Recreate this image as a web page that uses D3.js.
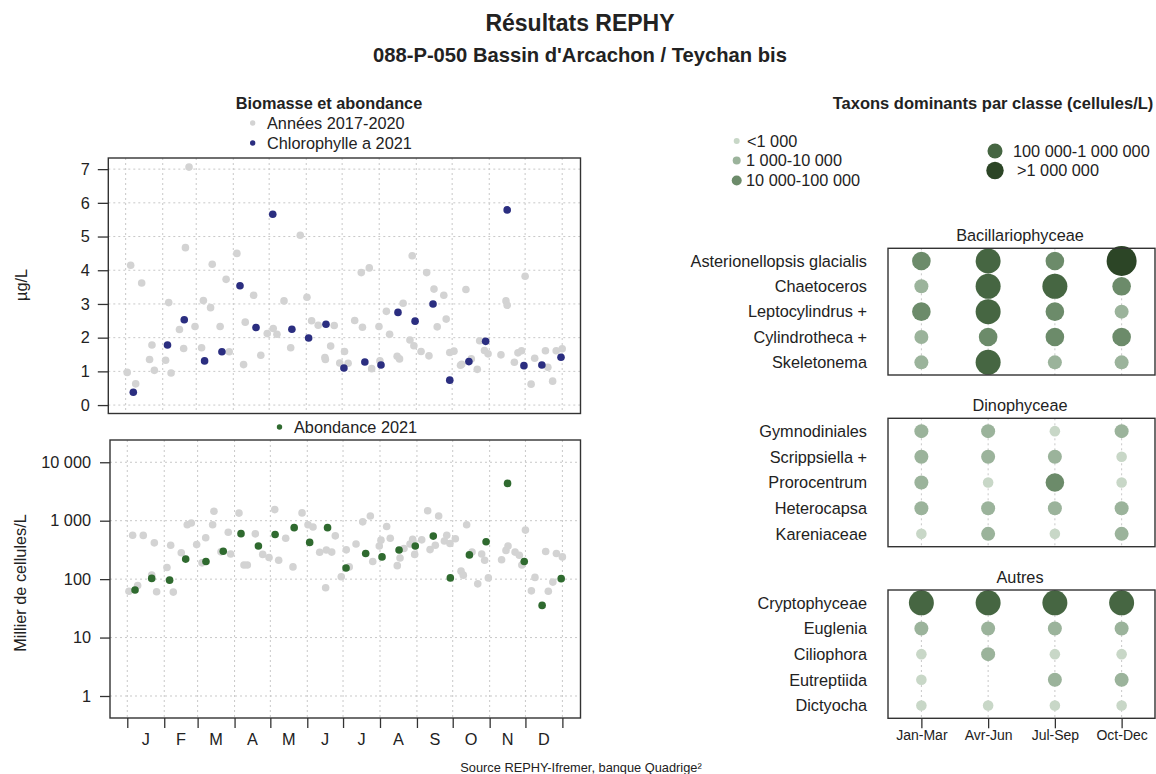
<!DOCTYPE html>
<html><head><meta charset="utf-8">
<script src="https://cdn.jsdelivr.net/npm/d3@7"></script>
<style>
body{margin:0;background:#fff;}
svg text{font-family:"Liberation Sans",Arial,sans-serif;fill:#222;}
</style></head>
<body><svg id="c" width="1156" height="774"></svg>
<script>
// ---------- DATA ----------
const monthLabels = ["J","F","M","A","M","J","J","A","S","O","N","D"];
const monthStarts = [0,31,59,90,120,151,181,212,243,273,304,334,365];
const chlTicks = [0,1,2,3,4,5,6,7];
const abTicks = [1,10,100,1000,10000];
const abTickLabels = ["1","10","100","1 000","10 000"];

// Chlorophylle a 2021 : day of year, µg/L
const chl2021Day = [6.4,35,49,66,80.5,95.6,109,123,139,153,167.5,182.5,200,213.5,227.7,242,257,271,287,301,319,333,348,364];
const chl2021Val = [0.38,1.78,2.53,1.31,1.58,3.54,2.3,5.66,2.25,1.99,2.4,1.1,1.28,1.19,2.75,2.49,3.0,0.74,1.29,1.89,5.79,1.17,1.19,1.42];

// Années 2017-2020 chlorophylle
const chlHistDay = [1.3,8.4,4.2,13.4,20,22,24,36,33.4,38,45,48.5,50,53,58,63.5,65,71,72.4,79,84,86.6,93,98.6,100,107,113,118.4,123.4,126.5,132.4,138,146,151.6,155.5,161,166.6,167,171.4,174.4,179,183,186,191.5,197,198,203.7,205.7,211.8,212.6,218,220.7,227,229,232,237.7,239.6,241,247,251.7,253.6,257.8,260.5,266,268,271,274.5,280,281,284.5,289,294,296,300,303,313.8,318,319,325,328,331,334,339,342,351,353,357,360,365];
const chlHistVal = [0.97,0.63,4.15,3.62,1.35,1.78,1.03,3.04,1.33,0.95,2.24,1.68,4.67,7.06,2.33,1.7,3.1,2.89,4.18,2.33,3.73,1.58,4.5,1.2,2.46,3.26,1.48,2.12,2.27,2.1,3.09,1.7,5.04,3.2,2.5,2.37,1.41,1.35,1.75,2.36,1.25,1.59,1.24,2.51,3.93,2.31,4.07,1.08,2.33,1.31,2.78,2.1,1.45,1.37,3.02,1.93,4.43,1.76,1.59,3.93,1.46,3.44,2.32,3.26,2.55,1.56,1.6,1.18,1.21,3.43,1.37,1.06,1.91,1.62,1.52,1.49,3.09,2.96,1.27,1.55,1.61,3.82,0.62,1.39,1.61,1.12,0.71,1.61,1.67];

// Abondance 2021 (milliers de cellules/L)
const ab2021Day = [6.5,20.5,35.5,49,66,80.5,95.4,110,124,140,153,168,183.5,200,213.7,228,241.6,256.7,271,287,301,319,333,348,364];
const ab2021Val = [65,103,96,220,200,300,600,370,580,760,425,760,155,275,240,315,370,545,105,260,435,4350,200,35.5,102];

// Années 2017-2020 abondance
const abHistDay = [1.4,4.5,8.7,13.4,20.5,22.7,24.6,33.3,36.4,38.6,45.3,50.3,53.7,58.2,62.7,65.8,71.6,72.7,78.6,84.7,86.7,93.7,97.9,100.7,107.4,113.6,118.9,123.7,127,132.9,139,146.6,151.6,155.8,161.4,166.4,167,171.5,174.5,179.5,183.7,186.2,191.9,197.5,203.9,205.9,211.4,212.8,217.6,220.6,226.5,228.8,232.1,237.2,239.4,241.1,247,252,254,258.4,261.2,266,268,270.7,275.2,280,281.9,284.7,289.2,294,297.3,299.8,302.9,314,317.7,319.4,325.3,328.9,331,334,339,342,351,353.2,357,360,365];
const abHistVal = [62,565,78,560,118,418,61,158,380,60,282,850,915,390,190,510,850,1450,293,635,270,1350,175,175,595,265,235,1550,210,500,162,1360,850,780,288,71,315,290,550,110,317,162,400,955,1200,200,370,465,795,500,170,230,335,400,480,265,470,1480,320,380,1200,450,565,407,490,137,117,850,290,83,270,210,105,214,310,370,290,257,175,690,63,107,297,62,89,275,240];

// Taxons dominants: classes 1..5 (<1 000 ... >1 000 000), null = absent
const quarters = ["Jan-Mar","Avr-Jun","Jul-Sep","Oct-Dec"];
const classLabels = ["<1 000","1 000-10 000","10 000-100 000","100 000-1 000 000",">1 000 000"];
const bacTaxa = ["Asterionellopsis glacialis","Chaetoceros","Leptocylindrus +","Cylindrotheca +","Skeletonema"];
const bacClasses = [[3,4,3,5],[2,4,4,3],[3,4,3,2],[2,3,3,3],[2,4,2,2]];
const dinoTaxa = ["Gymnodiniales","Scrippsiella +","Prorocentrum","Heterocapsa","Kareniaceae"];
const dinoClasses = [[2,2,1,2],[2,2,2,1],[2,1,3,1],[2,2,2,2],[1,2,1,2]];
const autTaxa = ["Cryptophyceae","Euglenia","Ciliophora","Eutreptiida","Dictyocha"];
const autClasses = [[4,4,4,4],[2,2,2,2],[1,2,1,1],[1,null,2,2],[1,1,1,1]];

// ---------- STYLE ----------
const GREY = "#d3d3d3", NAVY = "#2b2e80", GREEN = "#2f6a2f";
const classColors = ["#c8d7c7","#9bb39b","#6c8b6a","#466642","#2c4526"];
const classR = [5.3,7,9.3,12.5,15];
const legendR = [3,4,5,7.5,8.7];
const FS = 16.3;

const svg = d3.select("#c");

// Titles
svg.append("text").attr("x",580).attr("y",31).attr("text-anchor","middle")
  .attr("font-size",23).attr("font-weight","bold").text("Résultats REPHY");
svg.append("text").attr("x",580).attr("y",62).attr("text-anchor","middle")
  .attr("font-size",20.2).attr("font-weight","bold").text("088-P-050 Bassin d'Arcachon / Teychan bis");

// ---------- TOP PANEL ----------
const T = {l:108.3, r:580.5, t:158, b:413.5};
const xTop = d3.scaleLinear().domain([-14.5,380.3]).range([T.l,T.r]);
const yTop = d3.scaleLinear().domain([-0.25,7.33]).range([T.b,T.t]);

function grid(g, x, y, ticksY, box){
  g.selectAll(".gv").data(monthStarts).join("line")
    .attr("x1",d=>x(d)).attr("x2",d=>x(d)).attr("y1",box.t).attr("y2",box.b)
    .attr("stroke","#c8c8c8").attr("stroke-dasharray","2,3");
  g.selectAll(".gh").data(ticksY).join("line").attr("class","gh")
    .attr("x1",box.l).attr("x2",box.r).attr("y1",d=>y(d)).attr("y2",d=>y(d))
    .attr("stroke","#c8c8c8").attr("stroke-dasharray","2,3");
}
const gTop = svg.append("g");
grid(gTop, xTop, yTop, chlTicks, T);
gTop.append("g").selectAll("circle").data(d3.range(chlHistDay.length)).join("circle")
  .attr("cx",i=>xTop(chlHistDay[i])).attr("cy",i=>yTop(chlHistVal[i])).attr("r",3.8).attr("fill",GREY);
gTop.append("g").selectAll("circle").data(d3.range(chl2021Day.length)).join("circle")
  .attr("cx",i=>xTop(chl2021Day[i])).attr("cy",i=>yTop(chl2021Val[i])).attr("r",3.8).attr("fill",NAVY);
gTop.append("rect").attr("x",T.l).attr("y",T.t).attr("width",T.r-T.l).attr("height",T.b-T.t)
  .attr("fill","none").attr("stroke","#333").attr("stroke-width",1.4);
const axT = gTop.append("g").attr("transform",`translate(${T.l},0)`)
  .call(d3.axisLeft(yTop).tickValues(chlTicks).tickFormat(d3.format("d")).tickSize(10.5).tickPadding(8));
axT.select(".domain").remove();
axT.selectAll("line").attr("stroke","#333").attr("stroke-width",1.3);
axT.selectAll("text").attr("font-size",FS).attr("font-family","Liberation Sans, Arial, sans-serif").attr("fill","#222");
svg.append("text").attr("transform","translate(27,285) rotate(-90)").attr("text-anchor","middle")
  .attr("font-size",FS).text("µg/L");

// Legend top-left
svg.append("text").attr("x",329).attr("y",109).attr("text-anchor","middle")
  .attr("font-size",FS).attr("font-weight","bold").text("Biomasse et abondance");
const leg1 = [["Années 2017-2020",GREY,123],["Chlorophylle a 2021",NAVY,143]];
leg1.forEach(([t,c,y])=>{
  svg.append("circle").attr("cx",252.7).attr("cy",y).attr("r",2.7).attr("fill",c);
  svg.append("text").attr("x",267).attr("y",y+5.7).attr("font-size",FS).text(t);
});
svg.append("circle").attr("cx",279.5).attr("cy",427).attr("r",2.7).attr("fill",GREEN);
svg.append("text").attr("x",294).attr("y",432.7).attr("font-size",FS).text("Abondance 2021");

// ---------- BOTTOM PANEL ----------
const B = {l:110, r:580.5, t:440, b:718};
const xBot = d3.scaleLinear().domain([-14.5,380.2]).range([B.l,B.r]);
const yBot = d3.scaleLog().domain([Math.pow(10,-0.3765),Math.pow(10,4.381)]).range([B.b,B.t]);
const gBot = svg.append("g");
grid(gBot, xBot, yBot, abTicks, B);
gBot.append("g").selectAll("circle").data(d3.range(abHistDay.length)).join("circle")
  .attr("cx",i=>xBot(abHistDay[i])).attr("cy",i=>yBot(abHistVal[i])).attr("r",3.8).attr("fill",GREY);
gBot.append("g").selectAll("circle").data(d3.range(ab2021Day.length)).join("circle")
  .attr("cx",i=>xBot(ab2021Day[i])).attr("cy",i=>yBot(ab2021Val[i])).attr("r",3.8).attr("fill",GREEN);
gBot.append("rect").attr("x",B.l).attr("y",B.t).attr("width",B.r-B.l).attr("height",B.b-B.t)
  .attr("fill","none").attr("stroke","#333").attr("stroke-width",1.4);
const axB = gBot.append("g").attr("transform",`translate(${B.l},0)`)
  .call(d3.axisLeft(yBot).tickValues(abTicks).tickFormat((d,i)=>abTickLabels[i]).tickSize(10).tickPadding(9));
axB.select(".domain").remove();
axB.selectAll("line").attr("stroke","#333").attr("stroke-width",1.3);
axB.selectAll("text").attr("font-size",FS).attr("font-family","Liberation Sans, Arial, sans-serif").attr("fill","#222");
const axX = gBot.append("g").attr("transform",`translate(0,${B.b})`)
  .call(d3.axisBottom(xBot).tickValues(monthStarts).tickFormat("").tickSize(10));
axX.select(".domain").remove();
axX.selectAll("line").attr("stroke","#333").attr("stroke-width",1.3);
gBot.selectAll(".ml").data(monthLabels).join("text")
  .attr("x",(d,i)=>xBot((monthStarts[i]+monthStarts[i+1])/2)).attr("y",745)
  .attr("text-anchor","middle").attr("font-size",FS).text(d=>d);
svg.append("text").attr("transform","translate(26,583) rotate(-90)").attr("text-anchor","middle")
  .attr("font-size",FS).text("Millier de cellules/L");

svg.append("text").attr("x",581).attr("y",772).attr("text-anchor","middle")
  .attr("font-size",12.8).text("Source REPHY-Ifremer, banque Quadrige²");

// ---------- RIGHT: TAXONS ----------
svg.append("text").attr("x",993).attr("y",109).attr("text-anchor","middle")
  .attr("font-size",16.5).attr("font-weight","bold").text("Taxons dominants par classe (cellules/L)");
const legPos = [[736.7,141,747],[736.7,160.5,746],[736.7,180.5,746],[995,151,1013],[995,170.5,1017]];
classLabels.forEach((t,i)=>{
  const [cx,cy,tx] = legPos[i];
  svg.append("circle").attr("cx",cx).attr("cy",cy).attr("r",legendR[i]).attr("fill",classColors[i]);
  svg.append("text").attr("x",tx).attr("y",cy+5.7).attr("font-size",FS).text(t);
});

const xq = d3.scalePoint().domain(quarters).range([888,1155]).padding(0.5);
function panel(title, taxa, classes, top, bottom, showAxis){
  const g = svg.append("g");
  const y = d3.scalePoint().domain(taxa).range([top,bottom]).padding(0.5);
  g.selectAll(".vl").data(quarters).join("line")
    .attr("x1",d=>xq(d)).attr("x2",d=>xq(d)).attr("y1",top).attr("y2",bottom)
    .attr("stroke","#c8c8c8").attr("stroke-dasharray","2,3");
  const cells = [];
  taxa.forEach((t,i)=>quarters.forEach((q,j)=>{ if(classes[i][j]!=null) cells.push({t,q,c:classes[i][j]}); }));
  g.selectAll("circle").data(cells).join("circle")
    .attr("cx",d=>xq(d.q)).attr("cy",d=>y(d.t)).attr("r",d=>classR[d.c-1]).attr("fill",d=>classColors[d.c-1]);
  g.append("rect").attr("x",888).attr("y",top).attr("width",1155-888).attr("height",bottom-top)
    .attr("fill","none").attr("stroke","#333").attr("stroke-width",1.4);
  g.append("text").attr("x",1020).attr("y",top-7).attr("text-anchor","middle").attr("font-size",FS).text(title);
  g.selectAll(".rl").data(taxa).join("text")
    .attr("x",867).attr("y",d=>y(d)+5.7).attr("text-anchor","end").attr("font-size",FS).text(d=>d);
  if(showAxis){
    const ax = g.append("g").attr("transform",`translate(0,${bottom})`)
      .call(d3.axisBottom(xq).tickSize(10).tickPadding(2));
    ax.select(".domain").remove();
    ax.selectAll("line").attr("stroke","#333").attr("stroke-width",1.3);
    ax.selectAll("text").attr("font-size",14).attr("font-family","Liberation Sans, Arial, sans-serif").attr("fill","#222");
  }
}
panel("Bacillariophyceae", bacTaxa, bacClasses, 248.3, 375, false);
panel("Dinophyceae", dinoTaxa, dinoClasses, 418.3, 546.7, false);
panel("Autres", autTaxa, autClasses, 590, 718.3, true);
</script></body></html>
